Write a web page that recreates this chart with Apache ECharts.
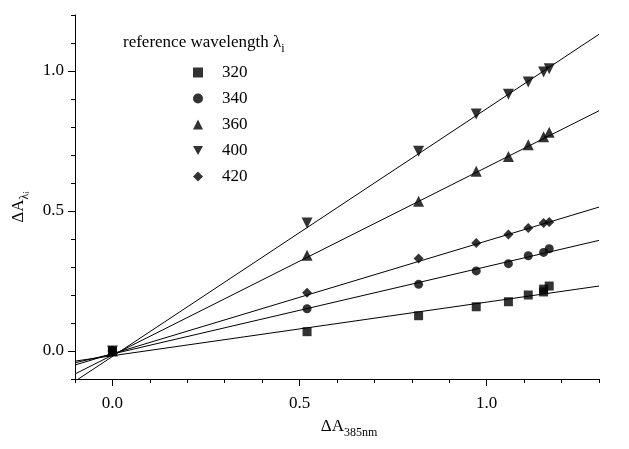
<!DOCTYPE html>
<html>
<head>
<meta charset="utf-8">
<script src="https://cdn.jsdelivr.net/npm/echarts@6/dist/echarts.min.js"></script>
<style>
  html, body { margin: 0; padding: 0; background: #fff; }
  #chart { width: 629px; height: 449px; }
</style>
</head>
<body>
<div id="chart"></div>
<script>
// measured points, x = dA at 385 nm
var xVals = [0, 0.52, 0.818, 0.972, 1.058, 1.111, 1.152, 1.167];
var xVals320 = [0, 0.52, 0.818, 0.972, 1.058, 1.111, 1.152, 1.152, 1.167];

var y320 = [0, 0.069, 0.126, 0.158, 0.176, 0.2, 0.211, 0.221, 0.232];
var y340 = [0, 0.151, 0.238, 0.286, 0.312, 0.34, 0.352, 0.365];
var y360 = [0, 0.342, 0.535, 0.642, 0.695, 0.737, 0.765, 0.781];
var y400 = [0, 0.457, 0.713, 0.846, 0.917, 0.961, 0.996, 1.008];
var y420 = [0, 0.208, 0.33, 0.386, 0.416, 0.439, 0.457, 0.461];

// fitted lines, read at the two ends of the x range
var fitX = [-0.1, 1.3];
var fit320 = [-0.036, 0.232];
var fit340 = [-0.042, 0.395];
var fit360 = [-0.082, 0.858];
var fit400 = [-0.108, 1.131];
var fit420 = [-0.05, 0.514];

var majorTicks = [0, 0.5, 1.0];

var FONT = "Liberation Serif";
var DOWN = "path://M0,0L10,0L5,9Z";
var DIAMOND = "path://M5,0L10,5L5,10L0,5Z";

function pairs(xs, ys) {
  return ys.map(function (v, i) { return [xs[i], v]; });
}

function scatter(name, xs, ys, symbol, size) {
  return {
    name: name,
    type: "scatter",
    data: pairs(xs, ys),
    symbol: symbol,
    symbolSize: size,
    itemStyle: { color: "#000" },
    z: 5
  };
}

function fit(name, ys) {
  return {
    name: name,
    type: "line",
    data: pairs(fitX, ys),
    showSymbol: false,
    symbol: "none",
    clip: true,
    silent: true,
    lineStyle: { color: "#000", width: 1 }
  };
}

var subRich = {
  a: { fontFamily: FONT, fontSize: 17, fontWeight: "normal", color: "#000", lineHeight: 24, verticalAlign: "middle" },
  s: { fontFamily: FONT, fontSize: 12, fontWeight: "normal", color: "#000", lineHeight: 10, verticalAlign: "bottom" },
  ss: { fontFamily: FONT, fontSize: 9, fontWeight: "normal", color: "#000", lineHeight: 4, verticalAlign: "bottom" }
};

function mainAxis(extra) {
  var ax = {
    type: "value",
    min: -0.1,
    interval: 0.1,
    axisLine: { show: true, onZero: false, lineStyle: { color: "#000", width: 1 } },
    axisTick: { show: true, customValues: majorTicks, length: 7, lineStyle: { color: "#000" } },
    splitLine: { show: false }
  };
  return Object.assign(ax, extra);
}

function minorAxis(extra) {
  var ax = {
    type: "value",
    min: -0.1,
    interval: 0.1,
    axisLine: { show: false, onZero: false },
    axisTick: { show: true, length: 4, lineStyle: { color: "#000" } },
    axisLabel: { show: false },
    splitLine: { show: false }
  };
  return Object.assign(ax, extra);
}

var chart = echarts.init(document.getElementById("chart"));
chart.setOption({
  animation: false,
  backgroundColor: "#fff",
  grid: { left: 75, right: 30, top: 15, bottom: 70 },
  title: {
    text: "{a|reference wavelength λ}{s|i}",
    left: 118,
    top: 26,
    textStyle: { fontWeight: "normal", rich: subRich }
  },
  legend: {
    data: [
      { name: "320", icon: "rect" },
      { name: "340", icon: "circle" },
      { name: "360", icon: "triangle" },
      { name: "400", icon: DOWN },
      { name: "420", icon: DIAMOND }
    ],
    orient: "vertical",
    left: 188,
    top: 59,
    itemWidth: 10,
    itemHeight: 10,
    itemGap: 9,
    textStyle: { fontFamily: FONT, fontSize: 17, color: "#000", padding: [0, 0, 0, 14] }
  },
  xAxis: [
    mainAxis({
      max: 1.3,
      position: "bottom",
      name: "{a|ΔA}{s|385nm}",
      nameLocation: "middle",
      nameGap: 36,
      nameTextStyle: { rich: subRich, padding: [0, 0, 0, 24] },
      axisLabel: {
        customValues: majorTicks, margin: 16,
        fontFamily: FONT, fontSize: 17, color: "#000",
        formatter: function (v) { return v.toFixed(1); }
      }
    }),
    minorAxis({ max: 1.3, position: "bottom" })
  ],
  yAxis: [
    mainAxis({
      max: 1.2,
      position: "left",
      name: "{a|ΔA}{s|λ}{ss|i}",
      nameLocation: "middle",
      nameRotate: 90,
      nameGap: 44,
      nameTextStyle: { rich: subRich, padding: [0, 20, 0, 0] },
      axisLabel: {
        customValues: majorTicks, margin: 11,
        fontFamily: FONT, fontSize: 17, color: "#000",
        formatter: function (v) { return v.toFixed(1); }
      }
    }),
    minorAxis({ max: 1.2, position: "left" })
  ],
  series: [
    fit("fit320", fit320),
    fit("fit340", fit340),
    fit("fit360", fit360),
    fit("fit400", fit400),
    fit("fit420", fit420),
    scatter("320", xVals320, y320, "rect", 9),
    scatter("340", xVals, y340, "circle", 9),
    scatter("360", xVals, y360, "triangle", 11),
    scatter("400", xVals, y400, DOWN, 11),
    scatter("420", xVals, y420, DIAMOND, 10)
  ]
});
</script>
</body>
</html>
